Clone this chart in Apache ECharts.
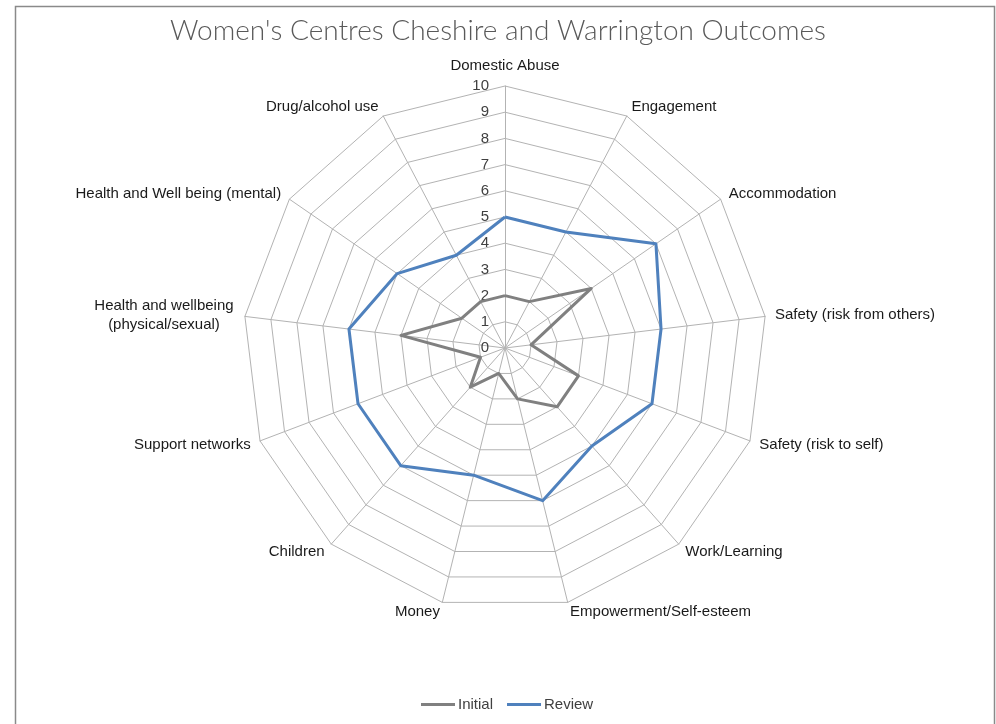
<!DOCTYPE html>
<html>
<head>
<meta charset="utf-8">
<script src="https://cdn.jsdelivr.net/npm/echarts@6/dist/echarts.min.js"></script>
<style>
html, body { margin: 0; padding: 0; background: #fff; }
#chart { width: 996px; height: 724px; }
</style>
</head>
<body>
<div id="chart"></div>
<script>
// categories clockwise from the top
const categories = [
	"Domestic Abuse",
	"Engagement",
	"Accommodation",
	"Safety (risk from others)",
	"Safety (risk to self)",
	"Work/Learning",
	"Empowerment/Self-esteem",
	"Money",
	"Children",
	"Support networks",
	"Health and wellbeing\n(physical/sexual)",
	"Health and Well being (mental)",
	"Drug/alcohol use"
]
const initialValues = [2, 2, 4, 1, 3, 3, 2, 1, 2, 1, 4, 2, 2]
const reviewValues = [5, 5, 7, 6, 6, 5, 6, 5, 6, 6, 6, 5, 4]
const scaleMax = 10
const scaleSplits = 10

const chart = echarts.init(document.getElementById("chart"))
const font = "Liberation Sans"

// echarts lays radar indicators out counter-clockwise, so reverse all but the first
const order = [0]
for (let i = categories.length - 1; i > 0; i--) order.push(i)
const pick = arr => order.map(i => arr[i])

const indicator = pick(categories).map((name, i) => {
	let ind = { name: name, max: scaleMax, min: 0 }
	if (i === 0) {
		ind.axisLabel = { show: true }
		ind.nameGap = 13
	}
	return ind
})

const option = {
	backgroundColor: "#fff",
	animation: false,
	title: {
		text: "Women's Centres Cheshire and Warrington Outcomes",
		left: "center",
		top: 12,
		textStyle: { fontFamily: "Lato", fontWeight: 300, fontSize: 28, color: "#595959" }
	},
	graphic: [
		{
			type: "rect",
			shape: { x: 15.5, y: 6.5, width: 979, height: 800 },
			style: { fill: "none", stroke: "#8a8a8a", lineWidth: 1.5 },
			silent: true
		}
	],
	legend: {
		bottom: 7,
		left: 416,
		itemWidth: 34,
		itemHeight: 3,
		itemGap: 14,
		icon: "rect",
		textStyle: { fontFamily: font, fontSize: 15, color: "#404040", padding: [0, 0, 0, -2] },
		data: ["Initial", "Review"]
	},
	radar: {
		center: [505, 348],
		radius: 262,
		startAngle: 90,
		shape: "polygon",
		splitNumber: scaleSplits,
		nameGap: 10,
		axisName: {
			fontFamily: font,
			fontSize: 15,
			color: "#1a1a1a",
			formatter: name => {
				if (name.indexOf("\n") < 0) return name
				return name.split("\n").map(s => "{c|" + s + "}").join("\n")
			},
			rich: {
				c: { fontFamily: font, fontSize: 15, color: "#1a1a1a", width: 142, align: "center", lineHeight: 19 }
			}
		},
		axisLine: { lineStyle: { color: "#b3b3b3", width: 1 } },
		splitLine: { lineStyle: { color: "#b3b3b3", width: 1 } },
		splitArea: { show: false },
		axisTick: { show: false },
		axisLabel: { show: false, fontFamily: font, fontSize: 15, color: "#404040", margin: 16, padding: [3, 0, 0, 0] },
		indicator: indicator
	},
	series: [
		{
			type: "radar",
			symbol: "none",
			data: [
				{
					name: "Initial",
					value: pick(initialValues),
					lineStyle: { color: "#808080", width: 3 },
					itemStyle: { color: "#808080" }
				},
				{
					name: "Review",
					value: pick(reviewValues),
					lineStyle: { color: "#4f81bd", width: 3 },
					itemStyle: { color: "#4f81bd" }
				}
			]
		}
	]
}

chart.setOption(option)
</script>
</body>
</html>
